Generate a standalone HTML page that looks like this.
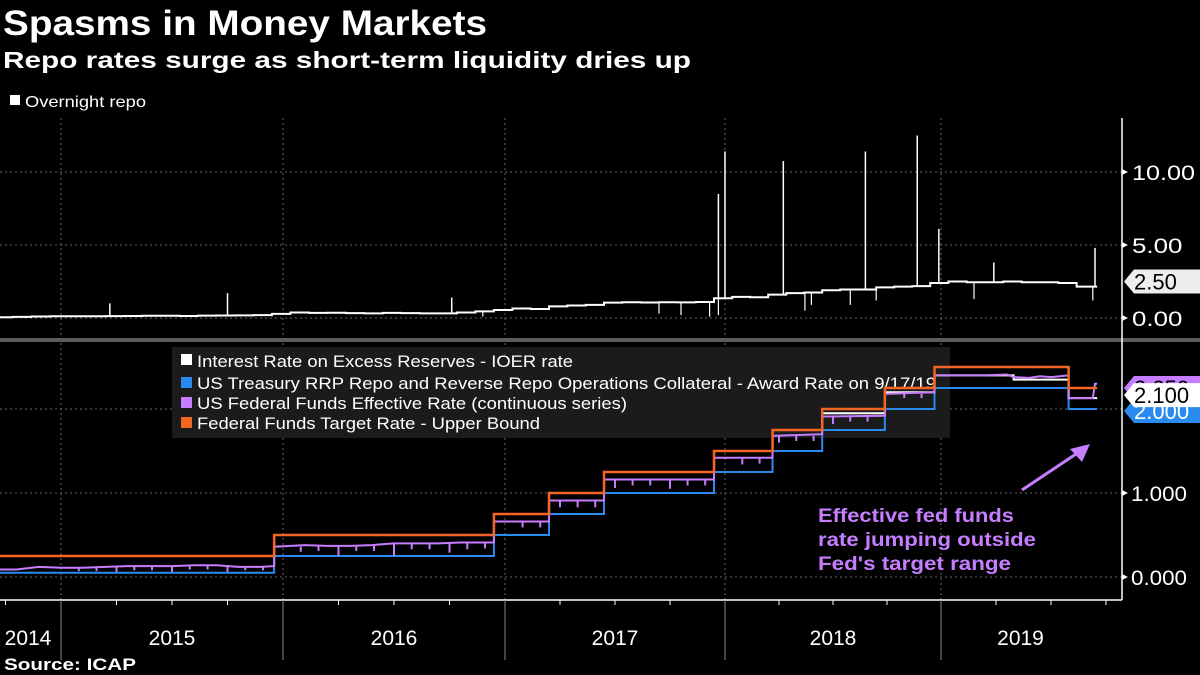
<!DOCTYPE html>
<html><head><meta charset="utf-8">
<style>
body{margin:0;background:#000;width:1200px;height:675px;overflow:hidden;font-family:"Liberation Sans",sans-serif;}
svg{display:block}
</style></head>
<body>
<svg id="c" width="1200" height="675" xmlns="http://www.w3.org/2000/svg">
<rect x="0" y="0" width="1200" height="675" fill="#000"/>
<text x="3" y="35" fill="#fff" font-size="35" font-weight="bold" textLength="484" lengthAdjust="spacingAndGlyphs">Spasms in Money Markets</text>
<text x="3" y="68" fill="#fff" font-size="23" font-weight="bold" textLength="688" lengthAdjust="spacingAndGlyphs">Repo rates surge as short-term liquidity dries up</text>
<g><rect x="10" y="95" width="10" height="10" fill="#fff"/><text x="25" y="107" fill="#fff" font-size="16" textLength="121" lengthAdjust="spacingAndGlyphs">Overnight repo</text></g>
<g id="grid"></g>
<rect x="0" y="338" width="1200" height="4" fill="#5a5a5a"/>
<g>
<rect x="172" y="347" width="778" height="91" fill="#1b1b1b"/>
<rect x="181" y="354" width="11" height="11" fill="#fff"/><text x="197" y="367" fill="#fff" font-size="17" textLength="376" lengthAdjust="spacingAndGlyphs">Interest Rate on Excess Reserves - IOER rate</text>
<rect x="181" y="377" width="11" height="11" fill="#2a8af0"/><text x="197" y="389" fill="#fff" font-size="17" textLength="739" lengthAdjust="spacingAndGlyphs">US Treasury RRP Repo and Reverse Repo Operations Collateral - Award Rate  on 9/17/19</text>
<rect x="181" y="397" width="11" height="11" fill="#c77dff"/><text x="197" y="409" fill="#fff" font-size="17" textLength="430" lengthAdjust="spacingAndGlyphs">US Federal Funds Effective Rate (continuous series)</text>
<rect x="181" y="417" width="11" height="11" fill="#f26522"/><text x="197" y="429" fill="#fff" font-size="17" textLength="343" lengthAdjust="spacingAndGlyphs">Federal Funds Target Rate - Upper Bound</text>
</g>
<g id="marks"></g>
<g id="axes"></g>
<g>
<text x="818" y="522" fill="#c77dff" font-size="19" font-weight="bold" textLength="196" lengthAdjust="spacingAndGlyphs">Effective fed funds</text>
<text x="818" y="546" fill="#c77dff" font-size="19" font-weight="bold" textLength="218" lengthAdjust="spacingAndGlyphs">rate jumping outside</text>
<text x="818" y="570" fill="#c77dff" font-size="19" font-weight="bold" textLength="193" lengthAdjust="spacingAndGlyphs">Fed's target range</text>
<line x1="1022" y1="490" x2="1082" y2="450" stroke="#c77dff" stroke-width="3"/>
<polygon points="1090,444 1070,449 1082,462" fill="#c77dff"/>
</g>
<text x="4" y="670" fill="#fff" font-size="17" font-weight="bold" textLength="132" lengthAdjust="spacingAndGlyphs">Source: ICAP</text>
</svg>
<script>
// ---- data ----
const years=[2014,2015,2016,2017,2018,2019];
const yearBounds=[2015,2016,2017,2018,2019,2020];
const upperDates=[2014.70,2015.96,2016.95,2017.20,2017.45,2017.95,2018.22,2018.45,2018.74,2018.97,2019.58];
const upperVals=[0.25,0.5,0.75,1,1.25,1.5,1.75,2,2.25,2.5,2.25];
const rrpDates=[2014.70,2015.96,2016.95,2017.20,2017.45,2017.95,2018.22,2018.45,2018.74,2018.97,2019.58];
const rrpVals=[0.05,0.25,0.5,0.75,1,1.25,1.5,1.75,2,2.25,2.0];
const ioerDates=[2014.70,2015.96,2016.95,2017.20,2017.45,2017.95,2018.22,2018.45,2018.74,2018.97,2019.33,2019.58];
const ioerVals=[0.25,0.5,0.75,1,1.25,1.5,1.75,1.95,2.2,2.4,2.35,2.13];
const endDate=2019.71;
const effrDates=[2014.70,2014.80,2014.90,2015.00,2015.10,2015.20,2015.30,2015.40,2015.50,2015.60,2015.70,2015.80,2015.90,2015.96,2015.961,2016.10,2016.20,2016.30,2016.40,2016.50,2016.60,2016.70,2016.80,2016.95,2016.951,2017.20,2017.201,2017.45,2017.451,2017.95,2017.951,2018.22,2018.221,2018.45,2018.451,2018.74,2018.741,2018.97,2018.971,2019.20,2019.30,2019.33,2019.40,2019.45,2019.50,2019.58,2019.581,2019.69,2019.70,2019.71];
const effrVals=[0.09,0.09,0.12,0.11,0.11,0.12,0.13,0.13,0.13,0.14,0.14,0.12,0.12,0.13,0.36,0.38,0.37,0.37,0.38,0.40,0.40,0.40,0.41,0.41,0.66,0.66,0.91,0.91,1.16,1.16,1.42,1.42,1.68,1.70,1.91,1.92,2.18,2.20,2.40,2.40,2.41,2.38,2.37,2.39,2.38,2.40,2.13,2.13,2.30,2.30];
const dipDates=[2015.08,2015.16,2015.25,2015.33,2015.41,2015.50,2015.58,2015.66,2015.75,2015.83,2015.91,2016.08,2016.16,2016.25,2016.33,2016.41,2016.50,2016.58,2016.66,2016.75,2016.83,2016.91,2017.08,2017.16,2017.25,2017.33,2017.41,2017.50,2017.58,2017.66,2017.75,2017.83,2017.91,2018.08,2018.16,2018.25,2018.33,2018.41,2018.50,2018.58,2018.66,2018.83,2018.91];
const dipVals=[0.07,0.07,0.06,0.08,0.08,0.06,0.09,0.09,0.06,0.08,0.08,0.30,0.31,0.25,0.31,0.31,0.25,0.33,0.33,0.29,0.33,0.34,0.59,0.59,0.83,0.83,0.83,1.06,1.09,1.09,1.05,1.09,1.09,1.34,1.35,1.60,1.62,1.62,1.82,1.85,1.85,2.13,2.13];
const repoStart=2014.70;
const repoVals=[0.05,0.08,0.10,0.12, 0.12,0.12,0.13,0.14,0.15,0.15,0.14,0.16,0.17,0.18,0.20,0.28, 0.38,0.35,0.36,0.33,0.32,0.35,0.33,0.32,0.32,0.38,0.45,0.55, 0.65,0.62,0.80,0.86,0.90,1.05,1.08,1.06,1.08,1.07,1.10,1.35, 1.45,1.42,1.60,1.70,1.75,1.90,1.95,1.95,2.10,2.15,2.18,2.40, 2.50,2.45,2.45,2.50,2.45,2.45,2.40,2.15,2.15];
const spikeDates=[2015.22,2015.75,2016.76,2017.97,2018.00,2018.27,2018.65,2018.89,2018.99,2019.24,2019.70];
const spikeVals=[1.0,1.7,1.4,8.5,11.4,10.75,11.4,12.5,6.1,3.8,4.8];
const repoDipDates=[2016.90,2017.70,2017.80,2017.93,2017.97,2018.37,2018.40,2018.58,2018.70,2019.15,2019.69];
const repoDipVals=[0.1,0.3,0.2,0.1,0.2,0.5,0.9,0.9,1.2,1.3,1.2];
const topTicks=[0,5,10];
const topTickLabels=["0.00","5.00","10.00"];
const botTicks=[0,1,2];
const botTickLabels=["0.000","1.000",""];
// ---- scales ----
const yearX=[61,283,505,725,941,1161];
function xOf(t){let y=Math.floor(t);let i=y-2015;if(i<0)i=0;if(i>4)i=4;const base=2015+i;return yearX[i]+(t-base)*(yearX[i+1]-yearX[i]);}
function yTop(v){return 318-v*14.6;}
function yBot(v){return 577-v*84;}
const NS="http://www.w3.org/2000/svg";
function mk(tag,attrs,parent){const e=document.createElementNS(NS,tag);for(const k in attrs)e.setAttribute(k,attrs[k]);parent.appendChild(e);return e;}
const grid=document.getElementById('grid'),marks=document.getElementById('marks'),axes=document.getElementById('axes');
yearBounds.slice(0,5).forEach(b=>{
 const l=mk('line',{x1:xOf(b),x2:xOf(b),y1:118,y2:600,stroke:'#666','stroke-dasharray':'2,3'},grid);
 
 
});
topTicks.forEach(v=>{const l=mk('line',{x1:0,x2:1122,y1:yTop(v),y2:yTop(v),stroke:'#666','stroke-dasharray':'2,3'},grid);
 
 });
botTicks.forEach(v=>{const l=mk('line',{x1:0,x2:1122,y1:yBot(v),y2:yBot(v),stroke:'#666','stroke-dasharray':'2,3'},grid);
 
 });
function stepPath(dates,vals){let d='';for(let i=0;i<dates.length;i++){const x0=xOf(dates[i]),x1=xOf(i+1<dates.length?dates[i+1]:endDate),y=yBot(vals[i]);d+=(i?'L':'M')+x0+','+y+'L'+x1+','+y;}return d;}
const rrp=mk('path',{d:stepPath(rrpDates,rrpVals),fill:'none',stroke:'#2a8af0','stroke-width':2},marks);


const ioer=mk('path',{d:stepPath(ioerDates,ioerVals),fill:'none',stroke:'#fff','stroke-width':2},marks);


let ed='';effrDates.forEach((t,i)=>{ed+=(i?'L':'M')+xOf(t)+','+yBot(effrVals[i]);});
const ef=mk('path',{d:ed,fill:'none',stroke:'#c77dff','stroke-width':2},marks);


dipDates.forEach((t,i)=>{let lv=0;for(let j=0;j<effrDates.length;j++)if(effrDates[j]<=t)lv=effrVals[j];
 const l=mk('line',{x1:xOf(t),x2:xOf(t),y1:yBot(lv),y2:yBot(dipVals[i]),stroke:'#c77dff','stroke-width':2},marks);
 
 });
const up=mk('path',{d:stepPath(upperDates,upperVals),fill:'none',stroke:'#f26522','stroke-width':2.5},marks);


let rd='';repoVals.forEach((v,i)=>{const x0=xOf(repoStart+i/12),x1=xOf(Math.min(repoStart+(i+1)/12,endDate));rd+=(i?'L':'M')+x0+','+yTop(v)+'L'+x1+','+yTop(v);});
const rp=mk('path',{d:rd,fill:'none',stroke:'#fff','stroke-width':2},marks);


function repoAt(t){const i=Math.max(0,Math.min(repoVals.length-1,Math.floor((t-repoStart)*12)));return repoVals[i];}
spikeDates.forEach((t,i)=>{const l=mk('line',{x1:xOf(t),x2:xOf(t),y1:yTop(repoAt(t)),y2:yTop(spikeVals[i]),stroke:'#fff','stroke-width':1.5},marks);
 
 });
repoDipDates.forEach((t,i)=>{const l=mk('line',{x1:xOf(t),x2:xOf(t),y1:yTop(repoAt(t)),y2:yTop(repoDipVals[i]),stroke:'#fff','stroke-width':1.2},marks);
 
 });
mk('line',{x1:1122,x2:1122,y1:118,y2:600,stroke:'#fff','stroke-width':1.5},axes);
mk('line',{x1:0,x2:1122,y1:600,y2:600,stroke:'#fff','stroke-width':1.5},axes);
topTicks.forEach((v,i)=>{mk('polygon',{points:`1122,${yTop(v)-3} 1128,${yTop(v)} 1122,${yTop(v)+3}`,fill:'#fff'},axes);
 const s=topTickLabels[i];
 const t=mk('text',{x:1132,y:yTop(v)+8,fill:'#fff','font-size':21,textLength:s.length*12.6,lengthAdjust:'spacingAndGlyphs'},axes);t.textContent=s;
 
 });
botTicks.forEach((v,i)=>{if(!botTickLabels[i])return;mk('polygon',{points:`1122,${yBot(v)-3} 1128,${yBot(v)} 1122,${yBot(v)+3}`,fill:'#fff'},axes);
 const t=mk('text',{x:1131,y:yBot(v)+8,fill:'#fff','font-size':21,textLength:56,lengthAdjust:'spacingAndGlyphs'},axes);t.textContent=botTickLabels[i];
 
 });
for(let q=2014.75;q<=2019.76;q+=0.25){const x=xOf(q);mk('line',{x1:x,x2:x,y1:600,y2:605,stroke:'#fff'},axes);}
yearBounds.slice(0,5).forEach(b=>mk('line',{x1:xOf(b),x2:xOf(b),y1:600,y2:660,stroke:'#888'},axes));
years.forEach(y=>{const a=y===2014?0:xOf(y),b=Math.min(xOf(y+1),1122);const cx=y===2014?28:(y===2019?(a+1100)/2:(a+b)/2);
 const t=mk('text',{x:cx,y:645,fill:'#fff','font-size':21,'text-anchor':'middle'},axes);t.textContent=String(y);
 
 });
function tag(y,txt,bg,fg,name){const g=mk('g',{},axes);
 
 
 mk('polygon',{points:`1124,${y} 1134,${y-12} 1200,${y-12} 1200,${y+12} 1134,${y+12}`,fill:bg},g);
 const t=mk('text',{x:1134,y:y+8,fill:fg,'font-size':22},g);t.textContent=txt;}
tag(yTop(repoVals[repoVals.length-1]+0.35),'2.50','#eee','#000','repo-value-tag');
tag(yBot(upperVals[upperVals.length-1]),'2.250','#c77dff','#000','effr-value-tag');
tag(yBot(rrpVals[rrpVals.length-1])+2,'2.000','#2a8af0','#fff','rrp-value-tag');
tag(yBot(ioerVals[ioerVals.length-1])-3,'2.100','#fff','#000','ioer-value-tag');
</script>
</body></html>
